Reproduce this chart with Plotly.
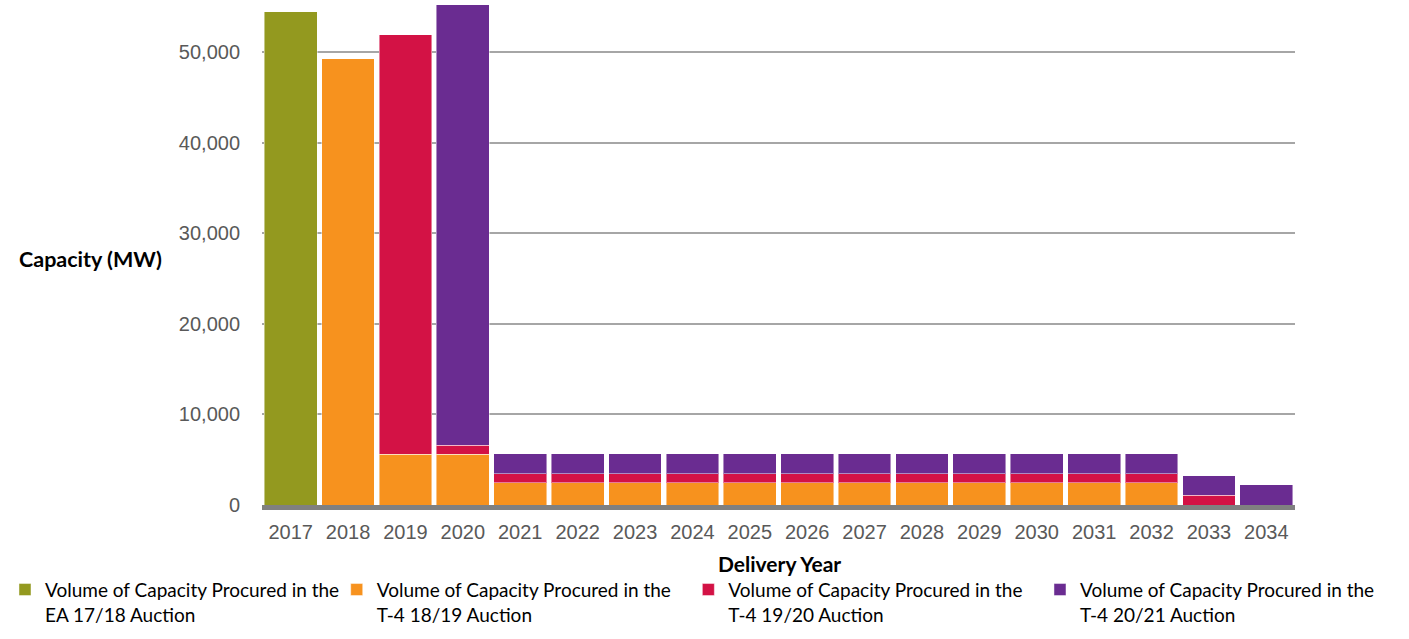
import plotly.graph_objects as go

years = [str(y) for y in range(2017, 2035)]
ea_17_18 = [54450] + [0] * 17
t4_18_19 = [0, 49280, 5580, 5580] + [2450] * 12 + [0, 0]
t4_19_20 = [0, 0, 46360, 1030] + [985] * 12 + [1060, 0]
t4_20_21 = [0, 0, 0, 48600] + [2220] * 12 + [2150, 2230]

names = [
    "Volume of Capacity Procured in the<br>EA 17/18 Auction",
    "Volume of Capacity Procured in the<br>T-4 18/19 Auction",
    "Volume of Capacity Procured in the<br>T-4 19/20 Auction",
    "Volume of Capacity Procured in the<br>T-4 20/21 Auction",
]
colors = ["#93991f", "#f7921e", "#d31245", "#6a2c91"]
series = [ea_17_18, t4_18_19, t4_19_20, t4_20_21]
legend_ids = ["legend", "legend2", "legend3", "legend4"]
legend_left_px = [0, 333, 686, 1039]

PL, PW = 258.0, 1037.0
ZERO, PH = 509.7, 504.7

fig = go.Figure()
for nm, col, vals, lid in zip(names, colors, series, legend_ids):
    fig.add_trace(go.Bar(
        x=years, y=vals, name=nm, legend=lid,
        marker=dict(color=col, line=dict(color="rgba(255,255,255,0.45)", width=1)),
    ))

legend_style = dict(
    orientation="h", xanchor="left", yanchor="top",
    y=(ZERO - 576) / PH,
    font=dict(family="Lato", size=19, color="#000000"),
    valign="top", bgcolor="rgba(0,0,0,0)", borderwidth=0,
)
legend_layout = {
    lid: dict(legend_style, x=(lx - PL) / PW)
    for lid, lx in zip(legend_ids, legend_left_px)
}

fig.update_layout(
    barmode="stack",
    bargap=0.08,
    width=1409, height=639,
    margin=dict(l=258, r=114, t=5, b=129),
    plot_bgcolor="white", paper_bgcolor="white",
    font=dict(family="Liberation Sans, Arial", size=20, color="#595959"),
    showlegend=True,
    xaxis=dict(
        type="category", showgrid=False, showline=True, linecolor="#808080", linewidth=5,
        layer="above traces",
        ticks="outside", ticklen=5, tickcolor="rgba(0,0,0,0)",
        tickfont=dict(size=20, color="#595959"),
    ),
    yaxis=dict(
        range=[0, 55200], tickvals=[0, 10000, 20000, 30000, 40000, 50000],
        tickformat=",", showgrid=True, gridcolor="#a6a6a6", gridwidth=1.5,
        zeroline=False,
        ticks="outside", ticklen=17, tickcolor="rgba(0,0,0,0)",
        tickfont=dict(size=20, color="#595959"),
    ),
    annotations=[
        dict(text="<b>Capacity (MW)</b>", xref="paper", yref="paper",
             x=(12 - PL) / PW, y=(ZERO - 261) / PH, xanchor="left", yanchor="middle",
             showarrow=False, font=dict(family="Lato", size=21.5, color="#000000")),
        dict(text="<b>Delivery Year</b>", xref="paper", yref="paper",
             x=(778 - PL) / PW, y=(ZERO - 569) / PH, xanchor="center", yanchor="middle",
             showarrow=False, font=dict(family="Lato", size=21, color="#000000")),
    ],
    **legend_layout,
)

fig.write_html("out.html", config={"displayModeBar": False},
               post_script="document.body.style.margin='0';")
